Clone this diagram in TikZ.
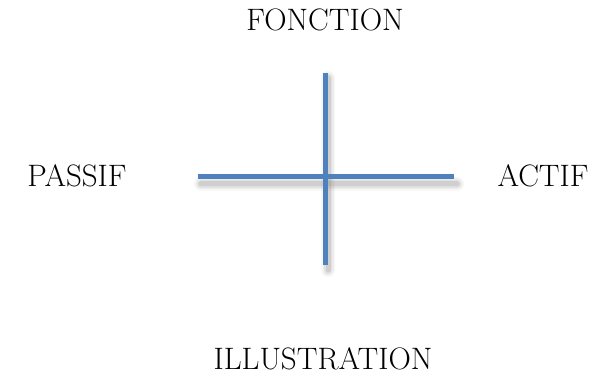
\documentclass[tikz,border=0pt]{standalone}
\usepackage{xcolor}
\usepackage{tikz}
\usetikzlibrary{positioning}
\definecolor{AxisBlue}{HTML}{4F81BD}
\definecolor{Shade}{HTML}{8A8A8A}
\tikzset{
  axis/.style={draw=AxisBlue,line width=5pt},
  shade/.style={draw=Shade,line cap=round},
  pole/.style={font=\fontsize{31}{36}\selectfont,inner sep=0pt,anchor=base}
}

\begin{document}
\begin{tikzpicture}[x=1pt,y=-1pt]
  \useasboundingbox (0,0) rectangle (608,382);
  \coordinate (top) at (325,73);
  \coordinate (bottom) at (325,265);
  \coordinate (left) at (198,177);
  \coordinate (right) at (454,177);
  % soft shadow under the two axes
  \foreach \w/\o in {14/0.07,11/0.09,8/0.13,5/0.2}{
    \draw[shade,line width=\w pt,opacity=\o] ([shift={(3,5)}]top) -- ([shift={(3,5)}]bottom);
    \draw[shade,line width=\w pt,opacity=\o] ([shift={(3,7)}]left) -- ([shift={(3,7)}]right);
  }
  \draw[axis] (top) -- (bottom);
  \draw[axis] (left) -- (right);
  \node[pole] (fonction) at (325,31) {FONCTION};
  \node[pole] (illustration) at (323,369) {ILLUSTRATION};
  \node[pole] (passif) at (77,187) {PASSIF};
  \node[pole] (actif) at (543,187) {ACTIF};
\end{tikzpicture}
\end{document}
